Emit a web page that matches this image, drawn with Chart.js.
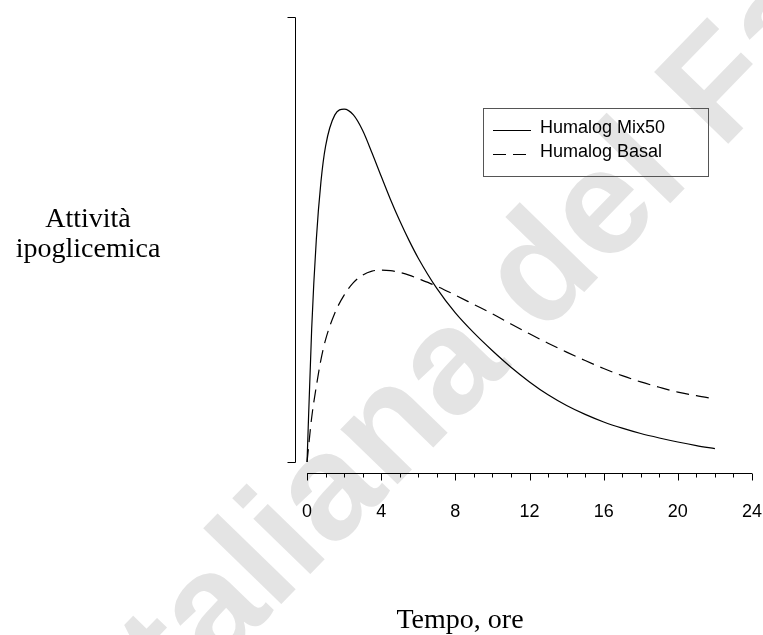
<!DOCTYPE html>
<html>
<head>
<meta charset="utf-8">
<script src="https://cdn.jsdelivr.net/npm/chart.js@4"></script>
<style>
  html, body { margin: 0; padding: 0; background: #fff; }
  #wrap { width: 763px; height: 635px; }
</style>
</head>
<body>
<div id="wrap"><canvas id="chart" width="763" height="635"></canvas></div>
<script>
// ore dopo l'iniezione
var hours = [0, 0.25, 0.5, 0.75, 1, 1.5, 2, 2.5, 3, 3.5, 4, 4.5, 5, 5.5, 6, 7, 8, 9, 10, 11, 12, 13, 14, 15, 16, 17, 18, 19, 20, 21, 22];
// attività (unità arbitrarie)
var mix50 = [0, 30, 50, 63, 71, 78, 79.3, 78, 74.5, 69.5, 64.2, 59, 54.2, 49.8, 45.8, 39, 33.5, 29, 25, 21.3, 18, 15.1, 12.7, 10.7, 9, 7.6, 6.4, 5.4, 4.5, 3.7, 3];
var basal = [0, 10, 17, 23, 27.5, 33.5, 37.5, 40.3, 42, 42.9, 43.1, 43, 42.6, 42, 41.2, 39.5, 37.5, 35.4, 33.3, 31, 28.8, 26.7, 24.7, 22.8, 21, 19.4, 18, 16.8, 15.7, 14.9, 14.2];
var seriesNames = ["Humalog Mix50", "Humalog Basal"];
var xTicks = [0, 4, 8, 12, 16, 20, 24];

var toPoints = function (ys) {
  return hours.map(function (h, i) { return { x: h, y: ys[i] }; });
};

// filigrana, assi a "parentesi", etichette e legenda
var decor = {
  id: "decor",
  beforeDraw: function (chart) {
    var ctx = chart.ctx;
    ctx.save();
    ctx.fillStyle = "#fff";
    ctx.fillRect(0, 0, chart.width, chart.height);
    ctx.translate(152, 737);
    ctx.rotate(-0.80);
    ctx.fillStyle = "#e4e4e4";
    ctx.font = "bold 150px 'Liberation Sans', Arial, sans-serif";
    ctx.fillText("Italiana del Farmaco", 0, 0);
    ctx.restore();
  },
  afterDraw: function (chart) {
    var ctx = chart.ctx;
    var xs = chart.scales.x;
    var ys = chart.scales.y;
    var area = chart.chartArea;
    ctx.save();
    ctx.strokeStyle = "#000";
    ctx.lineWidth = 1;

    // asse y
    var yx = area.left + 0.5;
    ctx.beginPath();
    ctx.moveTo(yx - 8, ys.getPixelForValue(100) + 0.5);
    ctx.lineTo(yx, ys.getPixelForValue(100) + 0.5);
    ctx.lineTo(yx, ys.getPixelForValue(0) + 0.5);
    ctx.lineTo(yx - 8, ys.getPixelForValue(0) + 0.5);
    ctx.stroke();

    // asse x
    var ay = area.bottom + 11.5;
    ctx.beginPath();
    ctx.moveTo(xs.getPixelForValue(0), ay);
    ctx.lineTo(xs.getPixelForValue(24), ay);
    for (var h = 0; h <= 24; h++) {
      var px = Math.round(xs.getPixelForValue(h)) + 0.5;
      ctx.moveTo(px, ay);
      ctx.lineTo(px, ay + (h % 4 === 0 ? 7 : 4));
    }
    ctx.stroke();

    ctx.fillStyle = "#000";
    ctx.font = "18px 'Liberation Sans', Arial, sans-serif";
    ctx.textAlign = "center";
    ctx.textBaseline = "alphabetic";
    xTicks.forEach(function (t) {
      ctx.fillText(String(t), xs.getPixelForValue(t), area.bottom + 55);
    });

    ctx.font = "28px 'Liberation Serif', 'Times New Roman', serif";
    ctx.fillText("Tempo, ore", 460, 628);
    ctx.fillText("Attività", 88, 227);
    ctx.fillText("ipoglicemica", 88, 257);

    // legenda
    ctx.lineWidth = 1;
    ctx.strokeStyle = "#555";
    ctx.strokeRect(483.5, 108.5, 225, 68);
    ctx.strokeStyle = "#000";
    ctx.font = "18px 'Liberation Sans', Arial, sans-serif";
    ctx.textAlign = "left";
    chart.data.datasets.forEach(function (ds, i) {
      var base = 133 + i * 24;
      ctx.setLineDash(ds.borderDash || []);
      ctx.beginPath();
      ctx.moveTo(493, base - 2.5);
      ctx.lineTo(531, base - 2.5);
      ctx.stroke();
      ctx.setLineDash([]);
      ctx.fillText(ds.label, 540, base);
    });
    ctx.restore();
  }
};

new Chart(document.getElementById("chart").getContext("2d"), {
  type: "line",
  data: {
    datasets: [
      {
        label: seriesNames[0],
        data: toPoints(mix50),
        borderColor: "#000",
        borderWidth: 1.2,
        pointRadius: 0,
        cubicInterpolationMode: "monotone",
        fill: false
      },
      {
        label: seriesNames[1],
        data: toPoints(basal),
        borderColor: "#000",
        borderWidth: 1.2,
        borderDash: [13, 7],
        pointRadius: 0,
        cubicInterpolationMode: "monotone",
        fill: false
      }
    ]
  },
  options: {
    responsive: false,
    animation: false,
    layout: { padding: { left: 295, right: 11, top: 17, bottom: 173 } },
    scales: {
      x: { type: "linear", display: false, min: -0.65, max: 24 },
      y: { type: "linear", display: false, min: 0, max: 100 }
    },
    plugins: {
      legend: { display: false },
      tooltip: { enabled: false }
    }
  },
  plugins: [decor]
});
</script>
</body>
</html>
